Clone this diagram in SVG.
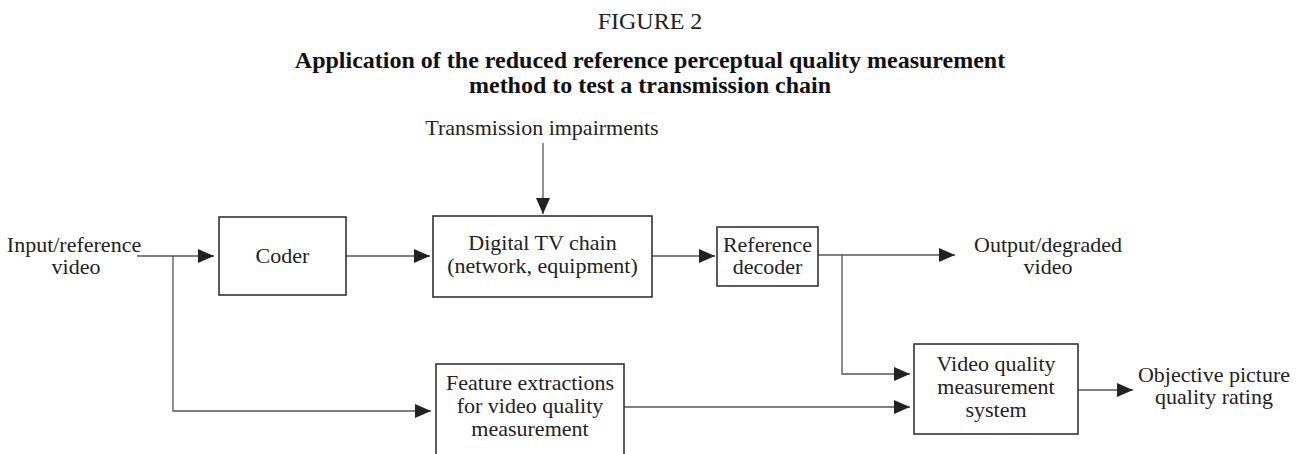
<svg xmlns="http://www.w3.org/2000/svg" width="1301" height="454" viewBox="0 0 1301 454">
<style>
text{font-family:"Liberation Serif","Times New Roman",serif;fill:#222;}
.t{font-size:22px;text-anchor:middle;}
.fig{font-size:24px;text-anchor:middle;}
.title{font-size:24px;font-weight:bold;text-anchor:middle;fill:#111;}
.box{fill:#fff;stroke:#333;stroke-width:1.6;}
.ln{fill:none;stroke:#555;stroke-width:1.3;}
</style>
<defs>
<marker id="ah" markerWidth="16" markerHeight="14" refX="16" refY="7" orient="auto" markerUnits="userSpaceOnUse">
<path d="M0,0 L16,7 L0,14 Z" fill="#222"/>
</marker>
</defs>
<rect width="1301" height="454" fill="#fff"/>
<g id="caption">
<text class="fig" x="650" y="29">FIGURE 2</text>
<text class="title" x="650" y="68">Application of the reduced reference perceptual quality measurement</text>
<text class="title" x="650" y="93">method to test a transmission chain</text>
</g>
<g id="connectors">
<line class="ln" x1="137" y1="256" x2="214" y2="256" marker-end="url(#ah)"/>
<polyline class="ln" points="173,256 173,411 431,411" marker-end="url(#ah)"/>
<line class="ln" x1="346" y1="256" x2="430" y2="256" marker-end="url(#ah)"/>
<line class="ln" x1="543" y1="143" x2="543" y2="214" marker-end="url(#ah)"/>
<line class="ln" x1="652" y1="256" x2="715" y2="256" marker-end="url(#ah)"/>
<line class="ln" x1="818" y1="255" x2="955" y2="255" marker-end="url(#ah)"/>
<polyline class="ln" points="842,255 842,374 910,374" marker-end="url(#ah)"/>
<line class="ln" x1="624" y1="407" x2="910" y2="407" marker-end="url(#ah)"/>
<line class="ln" x1="1078" y1="390" x2="1133" y2="390" marker-end="url(#ah)"/>
</g>
<g id="input">
<text class="t" x="74" y="252">Input/reference</text>
<text class="t" x="76" y="274">video</text>
</g>
<g id="impairments">
<text class="t" x="542" y="135">Transmission impairments</text>
</g>
<g id="coder">
<rect class="box" x="219" y="217" width="127" height="78"/>
<text class="t" x="282.5" y="263">Coder</text>
</g>
<g id="dtv">
<rect class="box" x="433" y="216" width="219" height="81"/>
<text class="t" x="542.5" y="250">Digital TV chain</text>
<text class="t" x="542.5" y="273">(network, equipment)</text>
</g>
<g id="refdec">
<rect class="box" x="717" y="227" width="101" height="59"/>
<text class="t" x="767.5" y="252">Reference</text>
<text class="t" x="767.5" y="274">decoder</text>
</g>
<g id="output">
<text class="t" x="1048" y="252">Output/degraded</text>
<text class="t" x="1048" y="274">video</text>
</g>
<g id="feature">
<rect class="box" x="436" y="364" width="188" height="100"/>
<text class="t" x="530" y="390">Feature extractions</text>
<text class="t" x="530" y="413">for video quality</text>
<text class="t" x="530" y="436">measurement</text>
</g>
<g id="vqm">
<rect class="box" x="914" y="344" width="164" height="90"/>
<text class="t" x="996" y="371">Video quality</text>
<text class="t" x="996" y="394">measurement</text>
<text class="t" x="996" y="417">system</text>
</g>
<g id="rating">
<text class="t" x="1214" y="382">Objective picture</text>
<text class="t" x="1214" y="404">quality rating</text>
</g>
</svg>
